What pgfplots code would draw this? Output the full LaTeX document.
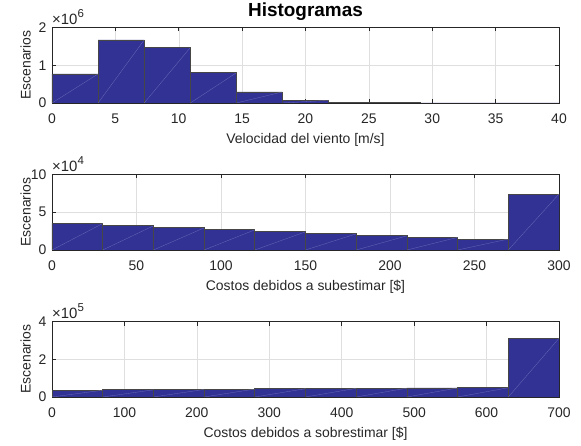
\documentclass[border=0pt]{standalone}
\usepackage{pgfplots}
\pgfplotsset{compat=1.18}
\usepackage{fontspec}
\setmainfont{Liberation Sans}

\definecolor{barfill}{RGB}{50,50,148}
\definecolor{baredge}{RGB}{70,70,70}
\definecolor{axcol}{RGB}{38,38,38}
\definecolor{gridcol}{RGB}{223,223,223}
\definecolor{diag}{RGB}{130,130,200}

\newcommand{\expo}[1]{{\fontsize{15}{17}\selectfont ×10\raisebox{0.45em}{\fontsize{11.5}{13}\selectfont #1}}}

\pgfplotsset{
  hist/.style={
    scale only axis, width=507bp, height=75.5bp,
    anchor=south west,
    font=\fontsize{14}{16}\selectfont,
    /pgf/number format/assume math mode=true,
    axis line style={axcol, line width=0.6pt},
    tick style={axcol, line width=0.6pt},
    major tick length=4bp,
    tick align=inside,
    ticklabel style={text=axcol},
    xticklabel style={yshift=-7bp},
    yticklabel style={xshift=-2bp},
    grid=major,
    major grid style={gridcol, line width=0.5pt},
    ylabel={Escenarios},
    ylabel style={at={(axis description cs:-0.052,0.5)}, anchor=center, text=axcol},
    xlabel style={at={(axis description cs:0.5,0)}, anchor=north, yshift=-27bp, text=axcol},
    ymin=0,
    every y tick scale label/.style={at={(rel axis cs:0,1)}, anchor=south west,
      inner sep=0pt, xshift=2bp, yshift=3bp, text=axcol},
    unbounded coords=jump,
  },
  bars/.style={ybar interval, fill=barfill, draw=baredge, line width=0.8pt},
  diagl/.style={diag, line width=0.3pt, opacity=0.7},
}

\begin{document}
\begin{tikzpicture}
\path[use as bounding box] (0,0) rectangle (581bp,446bp);

% Velocidad del viento
\begin{axis}[hist, at={(52bp,343bp)},
  xmin=0, xmax=40, ymax=2e6,
  xtick={0,5,...,40}, ytick={0,1e6,2e6}, scaled y ticks=base 10:-6,
  ytick scale label code/.code={\expo{6}},
  xlabel={Velocidad del viento [m/s]},
  title={\bfseries Histogramas},
  title style={font=\fontsize{19}{21}\selectfont\bfseries, yshift=-3bp, text=black},
]
\addplot[bars] coordinates {
  (0,7.7e5) (3.636,1.67e6) (7.273,1.467e6) (10.909,8.0e5) (14.545,2.93e5)
  (18.182,7.0e4) (21.818,1.2e4) (25.455,4e3) (29.091,1.5e3) (32.727,6e2)
  (36.364,2e2) (40,2e2)};
\addplot[diagl] coordinates {
  (0,0) (3.636,7.7e5) (3.636,nan)
  (3.636,0) (7.273,1.67e6) (7.273,nan)
  (7.273,0) (10.909,1.467e6) (10.909,nan)
  (10.909,0) (14.545,8.0e5) (14.545,nan)
  (14.545,0) (18.182,2.93e5) (18.182,nan)
  (18.182,0) (21.818,7.0e4)};
\end{axis}

% Costos debidos a subestimar
\begin{axis}[hist, at={(52bp,196bp)},
  xmin=0, xmax=300, ymax=1e5,
  xtick={0,50,...,300}, ytick={0,5e4,1e5}, scaled y ticks=base 10:-4,
  ytick scale label code/.code={\expo{4}},
  xlabel={Costos debidos a subestimar [\$]},
]
\addplot[bars] coordinates {
  (0,3.51e4) (30,3.2e4) (60,2.93e4) (90,2.67e4) (120,2.41e4)
  (150,2.14e4) (180,1.88e4) (210,1.67e4) (240,1.45e4) (270,7.41e4) (300,7.41e4)};
\addplot[diagl] coordinates {
  (0,0) (30,3.51e4) (30,nan)
  (30,0) (60,3.2e4) (60,nan)
  (60,0) (90,2.93e4) (90,nan)
  (90,0) (120,2.67e4) (120,nan)
  (120,0) (150,2.41e4) (150,nan)
  (150,0) (180,2.14e4) (180,nan)
  (180,0) (210,1.88e4) (210,nan)
  (210,0) (240,1.67e4) (240,nan)
  (240,0) (270,1.45e4) (270,nan)
  (270,0) (300,7.41e4)};
\end{axis}

% Costos debidos a sobrestimar
\begin{axis}[hist, at={(52bp,49bp)},
  xmin=0, xmax=700, ymax=4e5,
  xtick={0,100,...,700}, ytick={0,2e5,4e5}, scaled y ticks=base 10:-5,
  ytick scale label code/.code={\expo{5}},
  xlabel={Costos debidos a sobrestimar [\$]},
]
\addplot[bars] coordinates {
  (0,3.6e4) (70,3.8e4) (140,4.0e4) (210,4.2e4) (280,4.4e4)
  (350,4.6e4) (420,4.7e4) (490,4.8e4) (560,4.9e4) (630,3.11e5) (700,3.11e5)};
\addplot[diagl] coordinates {
  (0,0) (70,3.6e4) (70,nan)
  (70,0) (140,3.8e4) (140,nan)
  (140,0) (210,4.0e4) (210,nan)
  (210,0) (280,4.2e4) (280,nan)
  (280,0) (350,4.4e4) (350,nan)
  (350,0) (420,4.6e4) (420,nan)
  (420,0) (490,4.7e4) (490,nan)
  (490,0) (560,4.8e4) (560,nan)
  (560,0) (630,4.9e4) (630,nan)
  (630,0) (700,3.11e5)};
\end{axis}
\end{tikzpicture}
\end{document}
